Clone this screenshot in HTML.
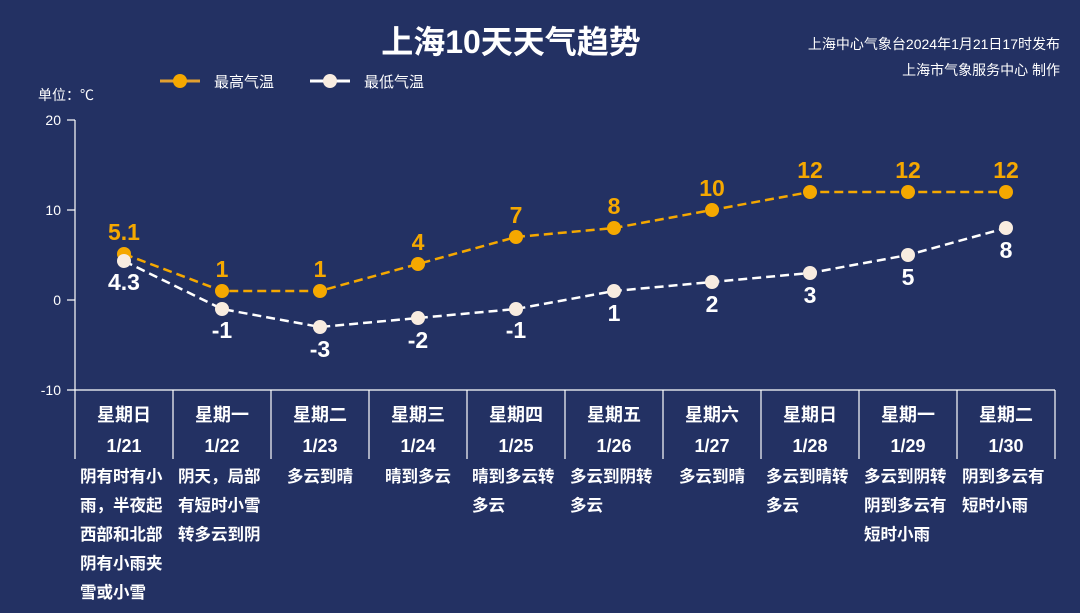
<!DOCTYPE html>
<html><head><meta charset="utf-8"><style>
body{margin:0;width:1080px;height:613px;background:#233163;overflow:hidden;font-family:"Liberation Sans","Noto Sans CJK SC",sans-serif;color:#fff}
svg{position:absolute;left:0;top:0}
.d{position:absolute;top:463px;width:94px;font-size:16.5px;font-weight:bold;line-height:29px;color:#fff}
</style></head><body>
<svg width="1080" height="613" font-family="Liberation Sans, Noto Sans CJK SC, sans-serif">
<text x="511" y="53" fill="#fff" font-size="32" font-weight="bold" text-anchor="middle">上海10天天气趋势</text>
<text x="1060" y="49" fill="#fff" font-size="14" text-anchor="end">上海中心气象台2024年1月21日17时发布</text>
<text x="1060" y="75" fill="#fff" font-size="14" text-anchor="end">上海市气象服务中心 制作</text>
<line x1="160" y1="81" x2="200" y2="81" stroke="#e2a030" stroke-width="3"/><circle cx="180" cy="81" r="7" fill="#f5a800"/>
<text x="214" y="87" fill="#fff" font-size="15">最高气温</text>
<line x1="310" y1="81" x2="350" y2="81" stroke="#fff" stroke-width="3"/><circle cx="330" cy="81" r="7" fill="#f8ece0"/>
<text x="364" y="87" fill="#fff" font-size="15">最低气温</text>
<text x="38" y="100" fill="#fff" font-size="14">单位：℃</text>
<g fill="#fff" font-size="14" text-anchor="end">
<text x="61" y="125">20</text><text x="61" y="215">10</text><text x="61" y="305">0</text><text x="61" y="395">-10</text></g>
<g stroke="#fff" stroke-width="1.2">
<line x1="75" y1="120" x2="75" y2="459"/><line x1="67" y1="120" x2="75" y2="120"/><line x1="67" y1="210" x2="75" y2="210"/><line x1="67" y1="300" x2="75" y2="300"/><line x1="67" y1="390" x2="1055" y2="390"/>
<line x1="173" y1="390" x2="173" y2="459"/><line x1="271" y1="390" x2="271" y2="459"/><line x1="369" y1="390" x2="369" y2="459"/><line x1="467" y1="390" x2="467" y2="459"/><line x1="565" y1="390" x2="565" y2="459"/><line x1="663" y1="390" x2="663" y2="459"/><line x1="761" y1="390" x2="761" y2="459"/><line x1="859" y1="390" x2="859" y2="459"/><line x1="957" y1="390" x2="957" y2="459"/><line x1="1055" y1="390" x2="1055" y2="459"/>
</g>
<polyline fill="none" stroke="#f5a800" stroke-width="2.5" stroke-dasharray="9,5" points="124,254 222,291 320,291 418,264 516,237 614,228 712,210 810,192 908,192 1006,192"/>
<polyline fill="none" stroke="#fff" stroke-width="2.5" stroke-dasharray="9,5" points="124,261 222,309 320,327 418,318 516,309 614,291 712,282 810,273 908,255 1006,228"/>
<g fill="#f5a800"><circle cx="124" cy="254" r="7"/><circle cx="222" cy="291" r="7"/><circle cx="320" cy="291" r="7"/><circle cx="418" cy="264" r="7"/><circle cx="516" cy="237" r="7"/><circle cx="614" cy="228" r="7"/><circle cx="712" cy="210" r="7"/><circle cx="810" cy="192" r="7"/><circle cx="908" cy="192" r="7"/><circle cx="1006" cy="192" r="7"/></g>
<g fill="#f8ece0"><circle cx="124" cy="261" r="7"/><circle cx="222" cy="309" r="7"/><circle cx="320" cy="327" r="7"/><circle cx="418" cy="318" r="7"/><circle cx="516" cy="309" r="7"/><circle cx="614" cy="291" r="7"/><circle cx="712" cy="282" r="7"/><circle cx="810" cy="273" r="7"/><circle cx="908" cy="255" r="7"/><circle cx="1006" cy="228" r="7"/></g>
<g fill="#f5a800" font-size="23" font-weight="bold" text-anchor="middle">
<text x="124" y="240">5.1</text><text x="222" y="277">1</text><text x="320" y="277">1</text><text x="418" y="250">4</text><text x="516" y="223">7</text><text x="614" y="214">8</text><text x="712" y="196">10</text><text x="810" y="178">12</text><text x="908" y="178">12</text><text x="1006" y="178">12</text></g>
<g fill="#fff" font-size="23" font-weight="bold" text-anchor="middle">
<text x="124" y="290">4.3</text><text x="222" y="338">-1</text><text x="320" y="357">-3</text><text x="418" y="348">-2</text><text x="516" y="338">-1</text><text x="614" y="321">1</text><text x="712" y="312">2</text><text x="810" y="303">3</text><text x="908" y="285">5</text><text x="1006" y="258">8</text></g>
<g fill="#fff" font-size="18" font-weight="bold" text-anchor="middle">
<text x="124" y="421">星期日</text><text x="222" y="421">星期一</text><text x="320" y="421">星期二</text><text x="418" y="421">星期三</text><text x="516" y="421">星期四</text><text x="614" y="421">星期五</text><text x="712" y="421">星期六</text><text x="810" y="421">星期日</text><text x="908" y="421">星期一</text><text x="1006" y="421">星期二</text>
<text x="124" y="452">1/21</text><text x="222" y="452">1/22</text><text x="320" y="452">1/23</text><text x="418" y="452">1/24</text><text x="516" y="452">1/25</text><text x="614" y="452">1/26</text><text x="712" y="452">1/27</text><text x="810" y="452">1/28</text><text x="908" y="452">1/29</text><text x="1006" y="452">1/30</text></g>
</svg>
<div class="d" style="left:80px">阴有时有小雨，半夜起西部和北部阴有小雨夹雪或小雪</div>
<div class="d" style="left:178px">阴天，局部有短时小雪转多云到阴</div>
<div class="d" style="left:287px">多云到晴</div>
<div class="d" style="left:385px">晴到多云</div>
<div class="d" style="left:472px">晴到多云转多云</div>
<div class="d" style="left:570px">多云到阴转多云</div>
<div class="d" style="left:679px">多云到晴</div>
<div class="d" style="left:766px">多云到晴转多云</div>
<div class="d" style="left:864px">多云到阴转阴到多云有短时小雨</div>
<div class="d" style="left:962px">阴到多云有短时小雨</div>
</body></html>
